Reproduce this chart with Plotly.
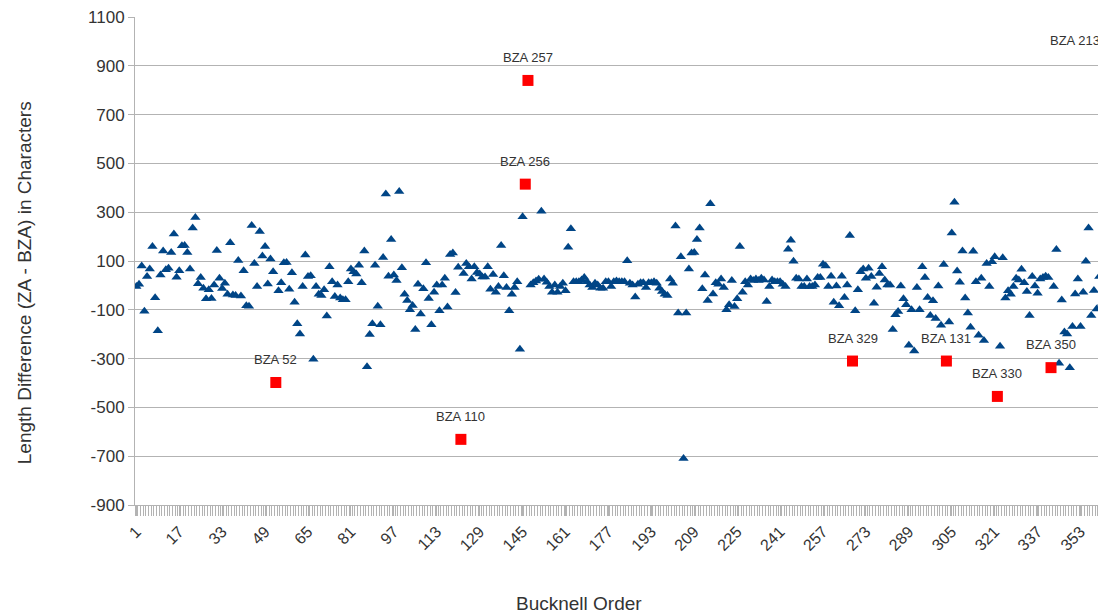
import plotly.graph_objects as go

# Bucknell order categories 1..362
n_cat = 362
categories = list(range(1, n_cat + 1))

# Blue series: length difference (ZA - BZA); None where the point is an outlier (red series)
blue_values = [
    -5, 5, 79, -106, 36, 67, 159, -51, -186, 43,
    141, 64, 70, 135, 211, 33, 60, 162, 164, 135,
    67, 235, 278, 7, 32, -12, -55, -18, -54, 2,
    143, 29, -13, 9, -36, 175, -39, -41, 102, -43,
    60, -83, -85, 246, 90, -5, 221, 120, 159, 6,
    108, 56, None, -22, 11, 93, 94, -16, 52, -69,
    -157, -199, -5, 125, 36, 40, -303, -5, -36, -41,
    -18, -125, 76, 15, -46, 2, -52, -59, -59, 15,
    67, 56, 47, 83, 11, 141, -333, -201, -157, 83,
    -85, -161, 114, 375, 38, 188, 43, 20, 385, 72,
    -36, -62, -100, -82, -181, 5, -117, -14, 93, -54,
    -161, -28, 2, -104, 2, 29, -89, 127, 133, -29,
    74, None, 49, 90, 76, 26, 76, 53, 47, 34,
    34, 76, -16, 45, -28, -5, 164, 40, -9, -104,
    -36, -9, 15, -262, 281, None, None, 2, 11, 18,
    25, 304, 26, 13, -5, -28, 2, -28, -5, 9,
    -22, 156, 232, 15, 15, 15, 22, 32, 15, 2,
    -9, 9, 2, -12, -12, 15, 15, -5, 15, 18,
    15, 15, 15, 101, 9, 2, -48, 5, 11, 11,
    -9, 11, 11, 15, 9, -12, -25, -36, -41, 26,
    9, 243, -113, 117, -709, -113, 67, 133, 135, 188,
    235, -14, 43, -62, 335, -35, 11, 5, 26, -9,
    -100, -79, 20, -86, -55, 159, -28, 15, 2, 26,
    20, 26, 20, 29, 22, -66, -5, 22, 15, 15,
    15, 5, -5, 148, 185, 99, 29, 26, -5, -5,
    26, -5, -5, 2, 32, 32, 87, 80, -5, 38,
    -69, -2, -83, 38, -50, 2, 205, None, -104, -18,
    56, 67, 29, 70, 36, -73, -8, 49, 76, 22,
    2, 2, -181, -120, -107, -2, -55, -79, -245, -100,
    -269, -9, -100, 76, 32, -50, -123, -63, -136, -2,
    -163, 86, None, -150, 215, 341, 59, 13, 141, -52,
    -113, -172, 140, 15, -204, 29, -226, 90, -5, 97,
    117, None, -249, 113, -52, -22, -36, -5, 29, 22,
    66, 11, -25, -123, 36, -2, -32, 26, 32, 38,
    32, None, -5, 147, -319, -60, -191, -199, -337, -168,
    -35, 26, -168, -28, 99, 235, -123, -21, -97, 36,
    -73, -52,
]

# Red outliers
red_categories = [53, 122, 146, 147, 268, 303, 322, 342, 351]
red_values = [-398, -631, 415, 840, -310, -310, -455, -337, 1250]
red_labels = ["BZA 52", "BZA 110", "BZA 256", "BZA 257", "BZA 329",
              "BZA 131", "BZA 330", "BZA 350", "BZA 213"]

# Axis ticks
y_min, y_max, y_step = -900, 1100, 200
y_tick_vals = list(range(y_min, y_max + 1, y_step))
y_tick_text = [str(v) for v in y_tick_vals]
x_tick_vals = list(range(1, n_cat + 1, 16))
x_tick_text = [str(v) for v in x_tick_vals]

FONT = "Liberation Sans, Arial, sans-serif"
GRID = "#b3b3b3"
TEXT = "#333333"

fig = go.Figure()
fig.add_trace(go.Scatter(
    x=categories, y=blue_values, mode="markers",
    marker=dict(symbol="triangle-up", size=9, color="#004586"),
    showlegend=False, hoverinfo="x+y", cliponaxis=True,
))
fig.add_trace(go.Scatter(
    x=red_categories, y=red_values, mode="markers",
    marker=dict(symbol="square", size=11, color="#ff0000"),
    showlegend=False, hoverinfo="x+y+text", text=red_labels, cliponaxis=True,
))

for c, v, lab in zip(red_categories, red_values, red_labels):
    if v <= y_max:
        fig.add_annotation(x=c, y=v, text=lab, showarrow=False, yshift=23,
                           font=dict(family=FONT, size=13, color=TEXT))
    else:
        fig.add_annotation(x=c, y=y_max, text=lab, showarrow=False, yshift=-23,
                           font=dict(family=FONT, size=13, color=TEXT))

fig.add_annotation(xref="paper", yref="paper", x=-0.113, y=0.455,
                   xanchor="center", yanchor="middle",
                   text="Length Difference (ZA - BZA) in Characters", textangle=-90,
                   showarrow=False, font=dict(family=FONT, size=19, color=TEXT))
fig.add_annotation(xref="paper", yref="paper", x=0.457, y=-0.201,
                   xanchor="center", yanchor="middle",
                   text="Bucknell Order", showarrow=False,
                   font=dict(family=FONT, size=19, color=TEXT))

# The page body has an 8px margin, so the figure is sized/offset to compensate.
fig.update_layout(
    width=1098, height=606,
    margin=dict(l=127, r=0, t=9, b=109, autoexpand=False),
    paper_bgcolor="white", plot_bgcolor="white",
    font=dict(family=FONT, color=TEXT),
)
fig.update_xaxes(
    automargin=False, ticklabeloverflow="allow",
    range=[0.5, n_cat + 0.5], tickmode="array", tickvals=x_tick_vals, ticktext=x_tick_text,
    tickangle=-45, tickfont=dict(family=FONT, size=16, color=TEXT),
    showgrid=False, zeroline=False, showline=True, linecolor=GRID, linewidth=1,
    ticks="outside", ticklen=10, tickcolor=GRID,
    minor=dict(tickmode="linear", tick0=0.5, dtick=1, ticks="outside", ticklen=10,
               tickcolor=GRID, showgrid=False),
)
fig.update_yaxes(
    automargin=False, ticklabeloverflow="allow",
    range=[y_min, y_max], tickmode="array", tickvals=y_tick_vals, ticktext=y_tick_text,
    tickfont=dict(family=FONT, size=17, color=TEXT),
    showgrid=True, gridcolor=GRID, gridwidth=1, zeroline=False,
    showline=True, linecolor=GRID, linewidth=1,
    ticks="outside", ticklen=6, tickcolor=GRID,
)

fig.write_html("out.html")
